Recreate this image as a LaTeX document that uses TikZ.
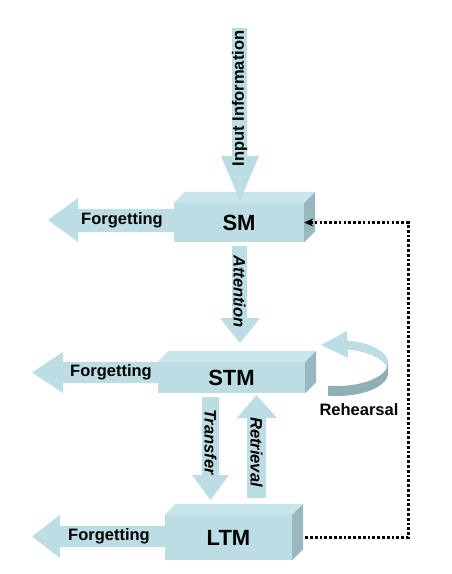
\documentclass[tikz,border=0pt]{standalone}
\usepackage{fontspec}
\setmainfont{Liberation Sans}
\usepackage{tikz}
\usetikzlibrary{calc,arrows.meta}
\definecolor{memfront}{RGB}{187,221,227}
\definecolor{memtop}{RGB}{199,229,234}
\definecolor{memside}{RGB}{150,184,190}
\definecolor{rehdark}{RGB}{140,176,182}

\begin{document}
\begin{tikzpicture}
[x=1pt,y=-1pt,
box/.style = {fill=memfront, inner sep=0pt, font=\fontsize{22}{24}\selectfont\bfseries},
lab/.style = {inner sep=0pt, font=\fontsize{16.5}{18}\selectfont\bfseries},
labit/.style = {inner sep=0pt, font=\fontsize{16.5}{18}\selectfont\bfseries\itshape},
]
\useasboundingbox (0,0) rectangle (452,574);
\def\dep{11}

% memory stores
\node (SM) at (239,222.5)[box,minimum width=130pt,minimum height=39pt] {SM};
\node (STM) at (231.5,377.5)[box,minimum width=147pt,minimum height=31pt] {STM};
\node (LTM) at (228.5,537.5)[box,minimum width=127pt,minimum height=45pt] {LTM};
\foreach \b in {SM,STM,LTM}{
  \fill[memtop] (\b.north west) -- ++(\dep,-\dep) -- ($(\b.north east)+(\dep,-\dep)$) -- (\b.north east) -- cycle;
  \fill[memside] (\b.north east) -- ++(\dep,-\dep) -- ($(\b.south east)+(\dep,-\dep)$) -- (\b.south east) -- cycle;
}

% flow arrows
\fill[memfront] (232,28) -- (247,28) -- (247,156) -- (259,156) -- (240,201) -- (221,156) -- (232,156) -- cycle;
\fill[memfront] (232,246) -- (247,246) -- (247,318) -- (260,318) -- (240,343) -- (220,318) -- (232,318) -- cycle;
\fill[memfront] (202,397) -- (219,397) -- (219,475) -- (229,475) -- (210.5,500) -- (192,475) -- (202,475) -- cycle;
\fill[memfront] (247,498) -- (266,498) -- (266,418) -- (277,418) -- (256.5,395) -- (237,418) -- (247,418) -- cycle;
\fill[memfront] (174,209) -- (78,209) -- (78,198) -- (48,220) -- (78,242) -- (78,232) -- (174,232) -- cycle;
\fill[memfront] (158,362) -- (63,362) -- (63,352) -- (32,372.5) -- (63,393) -- (63,383) -- (158,383) -- cycle;
\fill[memfront] (165,526) -- (60,526) -- (60,515) -- (32,536.5) -- (60,558) -- (60,547) -- (165,547) -- cycle;

% rehearsal loop
\fill[memfront] plot[domain=82:0,variable=\t,smooth,samples=30] ({337+51*cos(\t)},{363-23*sin(\t)})
  -- plot[domain=0:82,variable=\t,smooth,samples=30] ({337+51*cos(\t)},{372-23*sin(\t)}) -- cycle;
\fill[rehdark] plot[domain=0:-100,variable=\t,smooth,samples=30] ({337+51*cos(\t)},{363-23*sin(\t)})
  -- plot[domain=-100:0,variable=\t,smooth,samples=30] ({337+51*cos(\t)},{373-23*sin(\t)}) -- cycle;
\fill[memfront] (347,331) -- (348,358) -- (321,345) -- cycle;

% retrieval from LTM back to SM
\draw[line width=2.7pt,dash pattern=on 2.7pt off 2.1pt,-{Stealth[length=9pt,width=8pt]}]
  ([xshift=13pt]LTM.east) -- ++(103,0) |- (SM.east);

\node (inp) at (239.5,98.5)[lab,rotate=90] {Input Information};
\node (att) at (239.5,291.5)[labit,rotate=-90] {Attention};
\node (trf) at (210.5,442)[labit,rotate=-90] {Transfer};
\node (ret) at (256.5,452)[labit,rotate=-90] {Retrieval};
\node (fSM) at (122,220.5)[lab] {Forgetting};
\node (fSTM) at (111,372.5)[lab] {Forgetting};
\node (fLTM) at (109,536.5)[lab] {Forgetting};
\node (reh) at (359,410)[lab] {Rehearsal};

\end{tikzpicture}
\end{document}
